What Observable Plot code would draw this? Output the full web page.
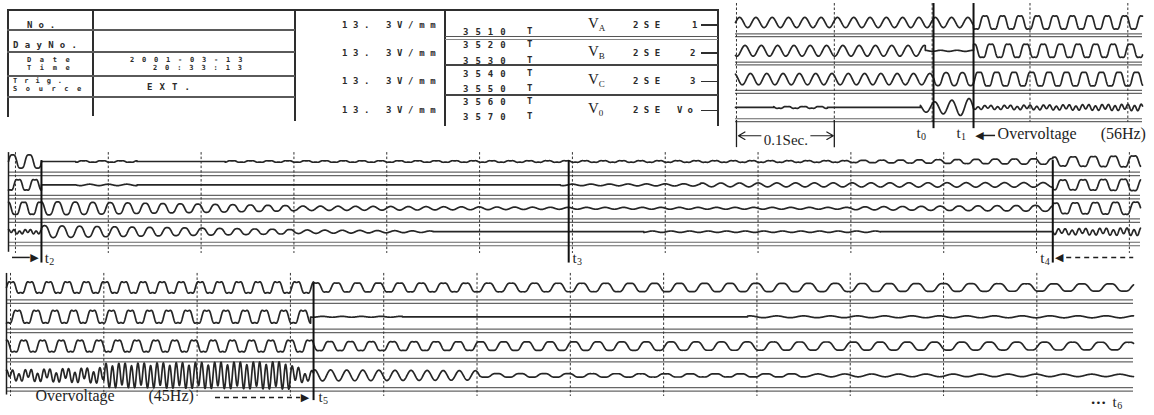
<!DOCTYPE html>
<html>
<head>
<meta charset="utf-8">
<script src="https://cdn.jsdelivr.net/npm/d3@7"></script>
<script src="https://cdn.jsdelivr.net/npm/@observablehq/plot@0.6"></script>
<style>
html,body{margin:0;padding:0;background:#fff;}
#wrap{position:relative;width:1154px;height:415px;overflow:hidden;background:#fff;}
#wrap svg{position:absolute;left:0;top:0;}
.ln{position:absolute;}
.dm{position:absolute;font-family:"DejaVu Sans Mono",monospace;font-weight:bold;font-size:9px;letter-spacing:6px;color:#2b2b2b;white-space:nowrap;line-height:8px;}
.sf{position:absolute;font-family:"Liberation Serif","Times New Roman",serif;font-size:15px;color:#222;white-space:nowrap;line-height:1;}
.sf sub{font-size:9px;vertical-align:-3px;}
</style>
</head>
<body>
<div id="wrap"></div>
<script>
// ---------- header (recorder settings) ----------
const infoLabels = [["No."], ["DayNo."], ["Date", "Time"], ["Trig.", "Source"]];
const infoValues = [[], [], ["2001-03-13", "20:33:13"], ["EXT."]];
const sensitivity = ["13. 3V/mm", "13. 3V/mm", "13. 3V/mm", "13. 3V/mm"];
const channelCodes = [["3510"], ["3520", "3530"], ["3540", "3550"], ["3560", "3570"]];
const channelUnit = "T";
const channelNames = [["V", "A"], ["V", "B"], ["V", "C"], ["V", "0"]];
const channelRange = ["2SE", "2SE", "2SE", "2SE"];
const channelIds = ["1", "2", "3", "Vo"];

// ---------- waveform segments (read from the record) ----------
// row: [t start s, t end s, f start Hz, f end Hz, fundamental amp start mm, end mm, 3rd-harmonic amp start mm, end mm]
const strip1VA = [
  [-0.001, 0.2423, 60, 60, 1.8, 1.8, 0, 0],
  [0.2423, 0.415, 56, 56, 2.7, 2.7, 0.45, 0.45]
];
const strip1VB = [
  [-0.001, 0.193, 60, 60, 1.9, 1.9, 0, 0],
  [0.193, 0.2423, 60, 60, 0.2, 0.2, 0, 0],
  [0.2423, 0.415, 56, 56, 2.7, 2.7, 0.45, 0.45]
];
const strip1VC = [
  [-0.001, 0.2014, 60, 60, 2.0, 2.0, 0, 0],
  [0.2014, 0.2423, 60, 60, 2.5, 2.5, 0.2, 0.2],
  [0.2423, 0.415, 56, 56, 2.8, 2.8, 0.45, 0.45]
];
const strip1V0 = [
  [-0.001, 0.038, 60, 60, 0, 0, 0, 0],
  [0.038, 0.093, 60, 60, 0.35, 0.35, 0.1, 0.1],
  [0.093, 0.188, 60, 60, 0, 0, 0, 0],
  [0.188, 0.2423, 57, 57, 1.5, 3.3, 0, 0],
  [0.2423, 0.415, 50, 50, 0.3, 0.3, 0.5, 1.0]
];
const strip2VA = [
  [-0.0075, 0.028, 56, 56, 3.2, 3.2, 0.4, 0.4],
  [0.028, 0.065, 50, 50, 0, 0, 0, 0],
  [0.065, 0.131, 50, 50, 0.35, 0.35, 0.1, 0.1],
  [0.131, 0.226, 50, 50, 0, 0, 0, 0],
  [0.226, 0.9, 50, 50, 0.35, 0.4, 0.1, 0.1],
  [0.9, 1.1175, 50, 48, 0.5, 1.4, 0.1, 0.2],
  [1.1175, 1.212, 46, 46, 2.2, 2.8, 0.4, 0.5]
];
const strip2VB = [
  [-0.0075, 0.028, 56, 56, 2.6, 2.6, 0.5, 0.5],
  [0.028, 0.065, 50, 50, 0, 0, 0, 0],
  [0.065, 0.131, 50, 50, 0.3, 0.3, 0, 0],
  [0.131, 0.587, 50, 50, 0, 0, 0, 0],
  [0.587, 0.738, 50, 50, 0.3, 0.5, 0, 0],
  [0.738, 1.1175, 50, 48, 0.8, 1.0, 0, 0],
  [1.1175, 1.212, 46, 46, 2.4, 2.9, 0.5, 0.5]
];
const strip2VC = [
  [-0.0075, 0.028, 56, 56, 3.0, 3.0, 0.5, 0.5],
  [0.028, 0.3, 53, 53, 3.2, 1.2, 0.3, 0.1],
  [0.3, 0.6, 53, 52, 1.0, 0.4, 0, 0],
  [0.6, 0.9, 50, 50, 0.4, 0.4, 0, 0],
  [0.9, 1.1175, 50, 48, 0.6, 1.4, 0, 0.1],
  [1.1175, 1.212, 46, 46, 2.6, 3.1, 0.5, 0.5]
];
const strip2V0 = [
  [-0.0075, 0.028, 56, 56, 0.4, 0.4, 0.7, 0.7],
  [0.028, 0.3, 53, 53, 2.8, 1.0, 0.2, 0.1],
  [0.3, 0.45, 53, 53, 0.8, 0.3, 0, 0],
  [0.45, 0.677, 50, 50, 0, 0, 0, 0],
  [0.677, 0.932, 50, 50, 0.3, 0.3, 0, 0],
  [0.932, 1.1175, 50, 50, 0, 0, 0, 0],
  [1.1175, 1.212, 45, 45, 0.4, 0.5, 1.0, 1.4]
];
const strip3VA = [
  [-0.0043, 0.3248, 50, 48, 2.2, 2.2, 0.5, 0.5],
  [0.3248, 0.503, 46, 41, 1.8, 1.7, 0.3, 0.3],
  [0.503, 0.85, 41, 35, 1.7, 1.6, 0.25, 0.2],
  [0.85, 1.2036, 35, 33, 1.6, 1.4, 0.2, 0.2]
];
const strip3VB = [
  [-0.0043, 0.3216, 50, 48, 2.5, 2.5, 0.55, 0.55],
  [0.3216, 0.42, 48, 48, 0.15, 0.15, 0, 0],
  [0.42, 0.79, 40, 40, 0, 0, 0, 0],
  [0.79, 1.2036, 35, 33, 0.3, 0.35, 0, 0]
];
const strip3VC = [
  [-0.0043, 0.3248, 50, 48, 2.3, 2.3, 0.5, 0.5],
  [0.3248, 0.503, 46, 41, 1.8, 1.7, 0.3, 0.3],
  [0.503, 0.85, 41, 35, 1.7, 1.6, 0.25, 0.2],
  [0.85, 1.2036, 35, 33, 1.6, 1.5, 0.2, 0.2]
];
const strip3V0 = [
  [-0.0043, 0.1, 50, 50, 0.9, 0.9, 1.3, 2.2],
  [0.1, 0.3, 49, 48, 0.6, 0.6, 3.8, 4.4],
  [0.3, 0.3248, 48, 48, 0.8, 1.2, 3.0, 0.8],
  [0.3248, 0.503, 58, 58, 1.9, 1.6, 0, 0],
  [0.503, 0.85, 40, 36, 0.7, 0.6, 0.1, 0.1],
  [0.85, 1.2036, 35, 33, 0.5, 0.4, 0, 0]
];
const lanePhaseDeg = [0, -120, 120, 30];

// event markers (s)
const strip1Events = [{name: "t", sub: "0", t: 0.2014}, {name: "t", sub: "1", t: 0.2423}];
const strip2Events = [{name: "t", sub: "2", t: 0.028}, {name: "t", sub: "3", t: 0.596}, {name: "t", sub: "4", t: 1.1175}];
const strip3Events = [{name: "t", sub: "5", t: 0.3248}];
const strip1Grid = [0, 0.1, 0.2, 0.3, 0.4];
const strip2Grid = [0, 0.1, 0.2, 0.3, 0.4, 0.5, 0.6, 0.7, 0.8, 0.9, 1.0, 1.1, 1.2];
const strip3Grid = [0, 0.1, 0.2, 0.3, 0.4, 0.5, 0.6, 0.7, 0.8, 0.9, 1.0, 1.1];
const timeBarLabel = "0.1Sec.";
const overvoltage1 = ["Overvoltage", "(56Hz)"];
const overvoltage2 = ["Overvoltage", "(45Hz)"];

// ---------- header drawing ----------
const wrap = document.getElementById("wrap");
function line(x, y, w, h, c) {
  const d = document.createElement("div"); d.className = "ln";
  Object.assign(d.style, {left: x + "px", top: y + "px", width: w + "px", height: h + "px", background: c || "#2e2e2e"});
  wrap.appendChild(d);
}
function label(text, x, cy, cls, style, html) {
  const d = document.createElement("div"); d.className = cls;
  if (html) d.innerHTML = text; else d.textContent = text;
  d.style.left = x + "px"; d.style.top = cy + "px";
  d.style.transform = "translateY(-50%)";
  if (style) Object.assign(d.style, style);
  wrap.appendChild(d); return d;
}
line(7, 9, 712, 2);
line(7, 9, 2, 108);
line(92, 9, 2, 107);
line(294, 9, 2, 112);
line(444, 9, 2, 117);
line(717, 9, 2, 117);
[29, 51, 75, 96].forEach(y => line(7, y, 288, 2, "#5a5a5a"));
line(445, 36, 273, 1, "#555"); line(445, 39, 273, 1, "#888");
line(445, 64, 273, 1.5, "#444"); line(445, 94, 273, 1.5, "#444");

const infoLabelPos = [[[27, 24.5]], [[13, 45]], [[27, 59.5], [27, 67.5]], [[13, 81], [13, 89]]];
const infoLabelLs = [[6], [6.3], [8.6, 8.6], [7, 8.6]];
const infoValuePos = [[], [], [[130, 60], [153, 68]], [[147, 86.5]]];
const infoValueLs = [[], [], [7.8, 7.9], [7.1]];
infoLabels.forEach((rows, i) => rows.forEach((s, j) => {
  const two = rows.length > 1;
  label(s, infoLabelPos[i][j][0], infoLabelPos[i][j][1], "dm", {fontSize: two ? "7px" : "9px", lineHeight: "7px", letterSpacing: infoLabelLs[i][j] + "px"});
}));
infoValues.forEach((rows, i) => rows.forEach((s, j) => {
  const two = rows.length > 1;
  label(s, infoValuePos[i][j][0], infoValuePos[i][j][1], "dm", {fontSize: two ? "7px" : "9px", lineHeight: "7px", letterSpacing: infoValueLs[i][j] + "px"});
}));
const rowY = [24.5, 52.5, 81, 110];
sensitivity.forEach((s, i) => label(s, 342, rowY[i], "dm", {letterSpacing: "5.6px"}));
const codeY = [[32], [44.5, 61], [74, 89], [102, 117]];
channelCodes.forEach((rows, i) => rows.forEach((s, j) => {
  label(s, 463, codeY[i][j], "dm", {letterSpacing: "7px"});
  label(channelUnit, 527, codeY[i][j] - 1, "dm");
}));
const nameY = [24, 52, 80, 109];
channelNames.forEach((n, i) => label(n[0] + "<sub>" + n[1] + "</sub>", 588, nameY[i], "sf", {fontSize: "15px"}, true));
channelRange.forEach((s, i) => label(s, 633, rowY[i], "dm", {letterSpacing: "5.4px"}));
const idX = [692, 690, 690, 677];
channelIds.forEach((s, i) => {
  label(s, idX[i], rowY[i], "dm", {letterSpacing: "5px"});
  line(701, rowY[i] - 0.5, 17, 1.5);
});

// ---------- waveform strips ----------
function wave(segs, phaseDeg) {
  const pts = [];
  let ph = phaseDeg * Math.PI / 180;
  const dt = 0.0003;
  for (const [ta, tb, fa, fb, a1a, a1b, a3a, a3b] of segs) {
    const n = Math.max(2, Math.ceil((tb - ta) / dt));
    for (let i = 0; i <= n; i++) {
      const u = i / n, t = ta + (tb - ta) * u;
      if (i > 0) {
        const f = fa + (fb - fa) * (u - 0.5 / n);
        ph += 2 * Math.PI * f * (tb - ta) / n;
      }
      const a1 = a1a + (a1b - a1a) * u, a3 = a3a + (a3b - a3a) * u;
      pts.push({t, v: a1 * Math.sin(ph) + a3 * Math.sin(3 * ph)});
    }
  }
  return pts;
}

const serif = "Liberation Serif, Times New Roman, serif";
const ink = "#1e1e1e";

function strip(cfg) {
  const marks = [];
  const baseRows = [];
  for (let k = 0; k < 4; k++) for (const off of cfg.baseOffsets) baseRows.push({y: 10 * k + off});
  marks.push(Plot.ruleY(baseRows, {y: "y", x1: () => cfg.lineStart, x2: () => cfg.lineEnd, stroke: "#666", strokeWidth: 1.2}));
  marks.push(Plot.ruleX(cfg.grid, {x: d => d, y1: () => cfg.gridY[0], y2: () => cfg.gridY[1], stroke: "#333", strokeWidth: 1, strokeDasharray: "2.5,2"}));
  cfg.lanes.forEach((segs, k) => {
    marks.push(Plot.line(wave(segs, lanePhaseDeg[k]), {x: "t", y: d => 10 * k - d.v, stroke: "#262626", strokeWidth: 1.7}));
  });
  if (cfg.border) marks.push(Plot.ruleX([cfg.lineStart], {x: d => d, y1: () => cfg.gridY[0], y2: () => cfg.gridY[1] - 0.5, stroke: ink, strokeWidth: 1.5}));
  marks.push(Plot.ruleX(cfg.events, {x: "t", y1: () => cfg.eventY[0], y2: () => cfg.eventY[1], stroke: "#111", strokeWidth: 2}));
  marks.push(Plot.text(cfg.events, {x: (d, i) => d.t + cfg.labelDx[i], y: () => cfg.labelY, text: "name", fontFamily: serif, fontSize: 15, textAnchor: "start", fill: ink}));
  marks.push(Plot.text(cfg.events, {x: (d, i) => d.t + cfg.labelDx[i] + cfg.subDx, y: () => cfg.labelY + cfg.subDy, text: "sub", fontFamily: serif, fontSize: 10, textAnchor: "start", fill: ink}));
  marks.push(...cfg.extra);
  return Plot.plot({
    width: 1154, height: 415, margin: 0,
    x: {domain: cfg.xDomain, range: cfg.xRange, axis: null},
    y: {domain: cfg.yDomain, range: cfg.yRange, axis: null},
    style: {background: "transparent", overflow: "visible"},
    marks
  });
}

const tri = (t, y, ch) => Plot.text([ch], {x: () => t, y: () => y, text: d => d, fontFamily: "DejaVu Sans", fontSize: 11, fill: ink});

// strip 1
wrap.appendChild(strip({
  xDomain: [-0.001, 0.415], xRange: [735, 1142],
  yDomain: [-7.7, 45], yRange: [0.2, 149.4],
  grid: strip1Grid, gridY: [-6.7, 35.3], baseOffsets: [4.0, 5.0],
  lineStart: -0.001, lineEnd: 0.415,
  lanes: [strip1VA, strip1VB, strip1VC, strip1V0],
  events: strip1Events, eventY: [-6.7, 37.5],
  labelDx: [-0.0175, -0.0175], subDx: 0.0047, labelY: 39.0, subDy: 1.3,
  extra: [
    Plot.ruleX([0, 0.1], {x: d => d, y1: () => 34.6, y2: () => 44.2, stroke: ink, strokeWidth: 1.3}),
    Plot.arrow([0], {x1: () => 0.025, x2: () => 0.002, y1: () => 40, y2: () => 40, stroke: ink, strokeWidth: 1.2, headLength: 10}),
    Plot.arrow([0], {x1: () => 0.076, x2: () => 0.099, y1: () => 40, y2: () => 40, stroke: ink, strokeWidth: 1.2, headLength: 10}),
    Plot.text([timeBarLabel], {x: () => 0.0505, y: () => 41.6, text: d => d, fontFamily: serif, fontSize: 15, fill: ink}),
    tri(0.2485, 39.9, "◀"),
    Plot.ruleY([39.9], {y: d => d, x1: () => 0.252, x2: () => 0.2648, stroke: ink, strokeWidth: 1.5}),
    Plot.text([overvoltage1[0]], {x: () => 0.2669, y: () => 39.2, text: d => d, fontFamily: serif, fontSize: 16, textAnchor: "start", fill: ink}),
    Plot.text([overvoltage1[1]], {x: () => 0.3722, y: () => 39.2, text: d => d, fontFamily: serif, fontSize: 16, textAnchor: "start", fill: ink})
  ]
}));

// strip 2
wrap.appendChild(strip({
  xDomain: [-0.0075, 1.212], xRange: [8, 1140],
  yDomain: [-8, 48], yRange: [142.28, 273.32],
  grid: strip2Grid, gridY: [-3.8, 39.3], baseOffsets: [4.5, 6.0],
  lineStart: -0.0075, lineEnd: 1.212, border: true,
  lanes: [strip2VA, strip2VB, strip2VC, strip2V0],
  events: strip2Events, eventY: [-0.4, 43.4],
  labelDx: [0.0035, 0.004, -0.0135], subDx: 0.0049, labelY: 41.3, subDy: 1.5,
  extra: [
    Plot.ruleY([41], {y: d => d, x1: () => -0.0032, x2: () => 0.016, stroke: ink, strokeWidth: 1.5}),
    tri(0.0205, 41, "▶"),
    tri(1.1245, 41, "◀"),
    Plot.ruleY([41], {y: d => d, x1: () => 1.1325, x2: () => 1.2047, stroke: ink, strokeWidth: 1.5, strokeDasharray: "5,4"})
  ]
}));

// strip 3
wrap.appendChild(strip({
  xDomain: [-0.0043, 1.2036], xRange: [6, 1133],
  yDomain: [-7, 43], yRange: [266.49, 412.99],
  grid: strip3Grid, gridY: [-4.8, 37.2], baseOffsets: [4.2, 5.4],
  lineStart: -0.0043, lineEnd: 1.2036, border: true,
  lanes: [strip3VA, strip3VB, strip3VC, strip3V0],
  events: strip3Events, eventY: [-1.4, 38.6],
  labelDx: [0.0053], subDx: 0.0049, labelY: 37.3, subDy: 1.3,
  extra: [
    Plot.text([overvoltage2[0]], {x: () => 0.0268, y: () => 37.0, text: d => d, fontFamily: serif, fontSize: 16, textAnchor: "start", fill: ink}),
    Plot.text([overvoltage2[1]], {x: () => 0.1479, y: () => 37.0, text: d => d, fontFamily: serif, fontSize: 16, textAnchor: "start", fill: ink}),
    Plot.ruleY([37.5], {y: d => d, x1: () => 0.2197, x2: () => 0.311, stroke: ink, strokeWidth: 1.5, strokeDasharray: "5,4"}),
    tri(0.3155, 37.5, "▶"),
    Plot.text(["•••"], {x: () => 1.1575, y: () => 39.4, text: d => d, fontFamily: "DejaVu Sans", fontSize: 9, textAnchor: "start", fill: ink}),
    Plot.text(["t"], {x: () => 1.1811, y: () => 39.0, text: d => d, fontFamily: serif, fontSize: 15, textAnchor: "start", fill: ink}),
    Plot.text(["6"], {x: () => 1.1861, y: () => 40.3, text: d => d, fontFamily: serif, fontSize: 10, textAnchor: "start", fill: ink})
  ]
}));
</script>
</body>
</html>
